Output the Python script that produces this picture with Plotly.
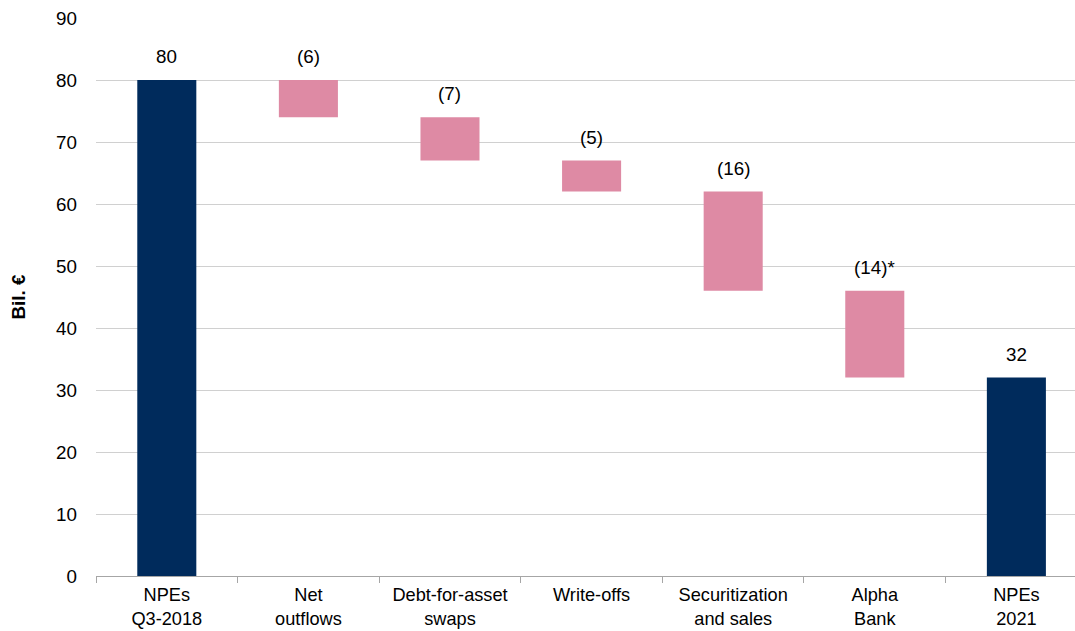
import plotly.graph_objects as go

# Waterfall of non-performing exposures (bil. €)
categories = ["NPEs<br>Q3-2018", "Net<br>outflows", "Debt-for-asset<br>swaps", "Write-offs",
              "Securitization<br>and sales", "Alpha<br>Bank", "NPEs<br>2021"]
start_value = 80
changes = [-6, -7, -5, -16, -14]
end_value = 32
label_suffix = ["", "", "", "", "", "*", ""]

NAVY = "#002B5C"
PINK = "#DE8AA4"
FONT = "Liberation Sans, Arial, sans-serif"
FONT_SIZE = 18.8

# build bases / heights for floating bars
bases, heights, colors, labels = [0], [start_value], [NAVY], [f"{start_value}"]
level = start_value
for c in changes:
    new_level = level + c
    bases.append(new_level)
    heights.append(-c)
    colors.append(PINK)
    labels.append(f"({abs(c)})")
    level = new_level
bases.append(0)
heights.append(end_value)
colors.append(NAVY)
labels.append(f"{end_value}")
labels = [l + s for l, s in zip(labels, label_suffix)]

fig = go.Figure(go.Bar(
    x=categories, y=heights, base=bases,
    marker=dict(color=colors, line=dict(width=0)),
    hoverinfo="skip",
))

for cat, b, h, lab in zip(categories, bases, heights, labels):
    fig.add_annotation(x=cat, y=b + h, text=lab, showarrow=False,
                       yanchor="bottom", yshift=11,
                       font=dict(family=FONT, size=FONT_SIZE, color="#000000"))

fig.update_layout(
    width=1075, height=631,
    margin=dict(l=96, r=0, t=18, b=55),
    paper_bgcolor="white", plot_bgcolor="white",
    bargap=0.583, showlegend=False,
    font=dict(family=FONT, size=FONT_SIZE, color="#000000"),
)
fig.update_yaxes(
    range=[0, 90], dtick=10, showgrid=True, gridcolor="#D0D0D0", gridwidth=1,
    zeroline=False, showline=False, ticks="", ticklabelstandoff=18,
    automargin=False,
    title=dict(text="<b>Bil. €</b>", font=dict(family=FONT, size=FONT_SIZE), standoff=25),
)
# the category axis runs slightly past the right edge of the figure
fig.update_xaxes(
    range=[-0.5, 6.414], automargin=False,
    showline=True, linecolor="#A6A6A6", linewidth=1,
    ticks="outside", tickson="boundaries", ticklen=6, tickcolor="#A6A6A6",
    showgrid=False, ticklabelstandoff=2,
    tickfont=dict(family=FONT, size=18.2),
)

fig.write_html("out.html")
